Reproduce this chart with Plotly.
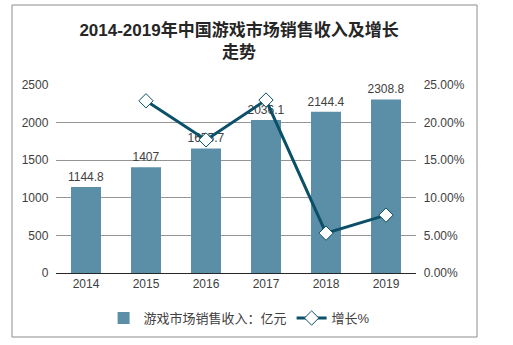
import plotly.graph_objects as go

years = ["2014", "2015", "2016", "2017", "2018", "2019"]
revenue = [1144.8, 1407, 1655.7, 2036.1, 2144.4, 2308.8]
growth_years = ["2015", "2016", "2017", "2018", "2019"]
growth = [0.229, 0.177, 0.230, 0.053, 0.077]
revenue_labels = ["1144.8", "1407", "1655.7", "2036.1", "2144.4", "2308.8"]

FONT = "Liberation Sans, Arial, Noto Sans CJK SC, sans-serif"
BAR_COLOR = "#5b8fa8"
LINE_COLOR = "#0b5068"

fig = go.Figure()
fig.add_trace(go.Bar(
    x=years, y=revenue, name="游戏市场销售收入：亿元",
    marker=dict(color=BAR_COLOR, line=dict(width=0)),
    text=revenue_labels, textposition="outside", cliponaxis=False,
    constraintext="none",
    textfont=dict(size=12, color="#404040", family=FONT),
))
fig.add_trace(go.Scatter(
    x=growth_years, y=growth, name="增长%", yaxis="y2",
    mode="lines+markers",
    line=dict(color=LINE_COLOR, width=3),
    marker=dict(symbol="diamond", size=11, color="white",
                line=dict(color=LINE_COLOR, width=1)),
))

fig.update_layout(
    width=513, height=345,
    margin=dict(l=56, r=97, t=85, b=72, autoexpand=False),
    paper_bgcolor="white", plot_bgcolor="white",
    font=dict(family=FONT, size=12, color="#404040"),
    bargap=0.5,
    showlegend=True,
    title=dict(
        text="<b>2014-2019年中国游戏市场销售收入及增长<br>走势</b>",
        x=0.466, xanchor="center", xref="container",
        y=1 - 36 / 345, yanchor="top", yref="container",
        font=dict(size=17, color="#262626", family="Liberation Sans, Noto Sans CJK SC, sans-serif"),
    ),
    xaxis=dict(
        showgrid=False, showline=True, linecolor="#262626", linewidth=1,
        ticks="", tickfont=dict(size=12, color="#404040"),
    ),
    yaxis=dict(
        range=[0, 2500], dtick=500, showgrid=True, gridcolor="#959595",
        gridwidth=1, zeroline=False, showline=False,
        tickfont=dict(size=12, color="#404040"), ticksuffix="  ",
    ),
    yaxis2=dict(
        range=[0, 0.25], dtick=0.05, overlaying="y", side="right",
        tickformat=".2%", showgrid=False, zeroline=False, showline=False,
        tickfont=dict(size=12, color="#404040"), tickprefix="  ",
    ),
    legend=dict(
        orientation="h", x=0.51, xanchor="center", y=-0.16, yanchor="top",
        font=dict(size=13, color="#404040"), itemwidth=30,
    ),
    shapes=[dict(
        type="rect", xref="paper", yref="paper",
        x0=-44 / 188 * 188 / 360, x1=(477 - 56) / 360,
        y0=(273 - 337) / 188, y1=(273 - 5) / 188,
        line=dict(color="#8c8c8c", width=1), fillcolor="rgba(0,0,0,0)",
        layer="below",
    )],
)

fig.write_html("out.html")
